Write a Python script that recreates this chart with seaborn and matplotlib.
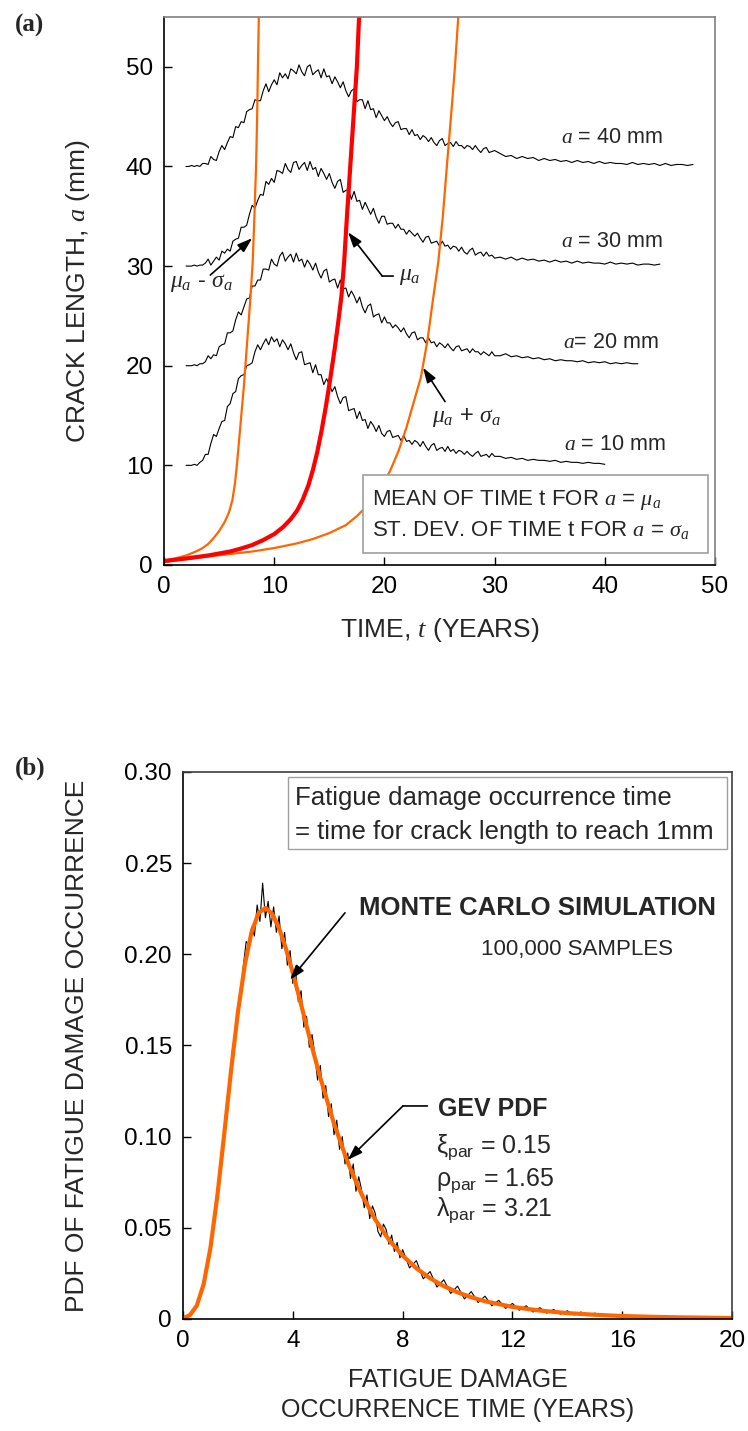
import numpy as np
import matplotlib
matplotlib.use("Agg")
import matplotlib.pyplot as plt
import seaborn as sns
from matplotlib.patches import Rectangle

# ---------------- panel (a): crack growth paths ----------------
# sampled every 0.25 yr up to t = 30, then every 0.5 yr
t40 = np.concatenate([np.arange(2.0, 30.01, 0.25), np.arange(30.5, 48.01, 0.5)])
a40 = [40.0, 40.0, 40.1, 40.0, 40.1, 40.0, 40.3, 40.3,
       40.2, 41.0, 40.7, 40.6, 41.5, 42.1, 41.7, 42.4,
       43.0, 42.9, 44.0, 43.9, 44.5, 44.4, 45.5, 45.7,
       45.8, 46.7, 46.6, 46.6, 47.6, 48.3, 47.5, 48.2,
       48.7, 48.2, 49.4, 48.9, 49.3, 48.8, 49.8, 49.6,
       49.3, 50.2, 49.5, 49.1, 50.0, 50.2, 49.2, 49.5,
       49.7, 48.9, 49.8, 49.0, 49.1, 48.3, 49.0, 48.5,
       47.9, 48.5, 47.6, 47.0, 47.6, 47.8, 46.5, 46.7,
       46.7, 45.8, 46.6, 45.7, 45.8, 44.9, 45.6, 45.1,
       44.6, 45.0, 44.4, 44.0, 44.4, 44.5, 43.7, 43.8,
       43.8, 43.2, 43.7, 43.1, 43.2, 42.7, 43.1, 42.9,
       42.5, 42.9, 42.4, 42.1, 42.6, 42.8, 42.1, 42.3,
       42.4, 42.0, 42.5, 42.1, 42.1, 41.8, 42.1, 42.0,
       41.7, 42.1, 41.7, 41.4, 41.8, 41.9, 41.4, 41.5,
       41.6,
       41.3, 41.0, 41.1, 40.8, 41.0, 40.8, 40.9, 40.6, 40.8, 40.6,
       40.7, 40.5, 40.6, 40.4, 40.6, 40.4, 40.5, 40.3, 40.5, 40.3,
       40.4, 40.3, 40.3, 40.2, 40.4, 40.2, 40.3, 40.2, 40.3, 40.1,
       40.3, 40.1, 40.2, 40.2, 40.1, 40.2]
t30 = np.concatenate([np.arange(2.0, 30.01, 0.25), np.arange(30.5, 45.01, 0.5)])
a30 = [30.0, 30.0, 30.0, 30.1, 30.0, 30.1, 30.1, 30.3,
       30.7, 30.1, 30.5, 30.9, 30.6, 31.5, 31.3, 31.7,
       31.5, 32.5, 32.7, 32.8, 33.9, 33.9, 34.1, 35.2,
       36.1, 35.8, 36.6, 37.2, 37.1, 38.5, 38.2, 38.8,
       38.4, 39.6, 39.5, 39.3, 40.3, 39.7, 39.4, 40.4,
       40.5, 39.7, 40.1, 40.4, 39.6, 40.5, 39.7, 39.9,
       39.0, 39.8, 39.3, 38.7, 39.3, 38.4, 37.8, 38.5,
       38.7, 37.4, 37.6, 37.7, 36.7, 37.5, 36.5, 36.6,
       35.7, 36.4, 35.8, 35.2, 35.8, 34.9, 34.3, 35.0,
       35.0, 34.2, 34.3, 34.3, 33.8, 34.2, 33.7, 33.7,
       33.2, 33.6, 33.3, 33.0, 33.3, 32.8, 32.4, 32.9,
       33.0, 32.3, 32.4, 32.5, 32.0, 32.5, 32.0, 32.1,
       31.7, 32.0, 31.9, 31.5, 31.9, 31.4, 31.2, 31.6,
       31.8, 31.1, 31.3, 31.4, 31.0, 31.4, 31.0, 31.1,
       30.8,
       30.9, 30.7, 30.9, 30.6, 30.8, 30.6, 30.7, 30.5, 30.6, 30.4,
       30.6, 30.4, 30.5, 30.3, 30.5, 30.3, 30.4, 30.3, 30.3, 30.2,
       30.4, 30.2, 30.3, 30.2, 30.3, 30.1, 30.2, 30.2, 30.1, 30.2]
t20 = np.concatenate([np.arange(2.0, 30.01, 0.25), np.arange(30.5, 43.01, 0.5)])
a20 = [20.0, 20.0, 20.0, 20.1, 20.0, 20.2, 20.2, 20.4,
       21.0, 20.7, 21.1, 21.0, 21.9, 22.1, 22.2, 23.3,
       23.3, 23.5, 24.6, 25.4, 25.1, 25.9, 26.7, 26.8,
       28.0, 28.0, 28.6, 28.6, 29.7, 29.7, 29.6, 30.7,
       30.2, 30.0, 31.0, 31.4, 30.5, 30.9, 31.2, 30.4,
       31.3, 30.5, 30.7, 29.9, 30.6, 30.2, 29.6, 30.3,
       29.4, 28.8, 29.5, 29.7, 28.4, 28.6, 28.7, 27.8,
       28.6, 27.7, 27.8, 26.9, 27.5, 27.0, 26.3, 26.9,
       25.9, 25.3, 26.0, 26.2, 24.9, 25.1, 25.2, 24.3,
       24.9, 24.3, 24.3, 23.8, 24.1, 23.8, 23.4, 23.8,
       23.2, 22.8, 23.3, 23.4, 22.6, 22.8, 22.8, 22.3,
       22.8, 22.3, 22.4, 21.9, 22.3, 22.1, 21.8, 22.2,
       21.8, 21.5, 21.9, 22.0, 21.5, 21.6, 21.7, 21.3,
       21.7, 21.4, 21.4, 21.1, 21.4, 21.2, 21.0, 21.4,
       21.0,
       21.0, 21.2, 20.9, 21.0, 20.8, 20.9, 20.7, 20.8, 20.6, 20.7,
       20.5, 20.6, 20.5, 20.5, 20.4, 20.5, 20.3, 20.4, 20.3, 20.4,
       20.2, 20.3, 20.2, 20.3, 20.2, 20.2]
t10 = np.concatenate([np.arange(2.0, 30.01, 0.25), np.arange(30.5, 40.01, 0.5)])
a10 = [10.0, 10.0, 10.0, 10.1, 10.0, 10.3, 10.5, 11.1,
       11.1, 12.2, 13.1, 12.9, 13.7, 14.4, 14.5, 15.9,
       16.2, 17.2, 17.4, 18.7, 19.0, 19.1, 20.0, 20.1,
       20.3, 21.4, 22.1, 21.6, 22.2, 22.7, 22.1, 22.9,
       22.4, 22.7, 21.9, 22.6, 22.2, 21.6, 22.2, 21.3,
       20.6, 21.3, 21.4, 20.1, 20.2, 20.3, 19.3, 20.1,
       19.1, 19.1, 18.1, 18.7, 18.1, 17.4, 17.9, 16.9,
       16.2, 16.8, 16.9, 15.5, 15.6, 15.7, 14.7, 15.4,
       14.5, 14.6, 13.7, 14.4, 14.0, 13.4, 14.0, 13.2,
       12.9, 13.4, 13.5, 12.8, 12.9, 13.0, 12.5, 13.0,
       12.4, 12.5, 12.1, 12.5, 12.3, 11.9, 12.4, 11.9,
       11.5, 12.0, 12.2, 11.5, 11.7, 11.8, 11.4, 11.9,
       11.4, 11.6, 11.2, 11.5, 11.4, 11.1, 11.4, 11.1,
       10.9, 11.2, 11.4, 10.9, 11.0, 11.1, 10.8, 11.2,
       10.9,
       10.9, 10.7, 10.8, 10.6, 10.7, 10.5, 10.6, 10.5, 10.5, 10.4,
       10.5, 10.3, 10.4, 10.3, 10.3, 10.2, 10.3, 10.2, 10.2, 10.1]

# mean and mean +/- st.dev. growth curves
lo_t = [0, 1, 2, 3, 3.5, 4, 4.5, 5, 5.5, 5.9, 6.2, 6.45, 6.65, 6.85, 7.05,
        7.25, 7.45, 7.65, 7.85, 8.05, 8.2, 8.35, 8.45, 8.52, 8.6]
lo_a = [0.4, 0.65, 0.95, 1.4, 1.7, 2.1, 2.7, 3.4, 4.3, 5.3, 6.5, 8.3, 10.5,
        13.0, 15.5, 18.0, 21.0, 24.0, 27.0, 30.5, 35.0, 40.0, 45.0, 50.0, 55.0]
mu_t = [0, 2, 4, 6, 7, 8, 9, 10, 10.8, 11.5, 12.1, 12.6, 13.1, 13.5, 13.9,
        14.3, 14.7, 15.1, 15.5, 15.8, 16.1, 16.35, 16.6, 16.9, 17.2, 17.5, 17.7]
mu_a = [0.4, 0.65, 0.95, 1.35, 1.65, 2.0, 2.5, 3.1, 3.8, 4.6, 5.5, 6.6, 8.0,
        9.5, 11.3, 13.5, 16.0, 18.8, 21.8, 24.3, 27.0, 30.5, 35.0, 40.0, 45.0,
        50.0, 55.0]
hi_t = [0, 2, 4, 6, 8, 10, 12, 13.5, 15, 16.5, 17.5, 18.5, 19.5, 20.5, 21.3,
        22.0, 22.7, 23.3, 23.9, 24.4, 24.9, 25.3, 25.7, 26.1, 26.4, 26.7]
hi_a = [0.3, 0.6, 0.85, 1.1, 1.35, 1.7, 2.15, 2.6, 3.2, 4.0, 4.9, 6.0, 7.5,
        9.4, 11.5, 13.8, 16.5, 18.8, 22.5, 26.6, 30.5, 35.0, 40.5, 45.8, 50.0,
        55.0]

# ---------------- panel (b): PDF of fatigue damage occurrence ----------------
mc_t = np.concatenate([np.arange(0.0, 8.01, 0.1), np.arange(8.25, 20.01, 0.25)])
mc_pdf = [0.0000, 0.0010, 0.0020, 0.0025, 0.0055, 0.0070, 0.0120, 0.0150, 0.0240, 0.0290,
          0.0410, 0.0480, 0.0640, 0.0720, 0.0910, 0.0980, 0.1190, 0.1270, 0.1480, 0.1530,
          0.1720, 0.1760, 0.1940, 0.2070, 0.2050, 0.2150, 0.2100, 0.2270, 0.2180, 0.2390,
          0.2200, 0.2290, 0.2150, 0.2260, 0.2120, 0.2210, 0.2030, 0.2120, 0.1940, 0.2020,
          0.1840, 0.1910, 0.1740, 0.1800, 0.1600, 0.1660, 0.1490, 0.1560, 0.1450, 0.1310,
          0.1390, 0.1210, 0.1280, 0.1110, 0.1180, 0.1010, 0.1090, 0.0930, 0.1000, 0.0850,
          0.0910, 0.0770, 0.0850, 0.0700, 0.0780, 0.0710, 0.0610, 0.0680, 0.0550, 0.0620,
          0.0580, 0.0480, 0.0450, 0.0520, 0.0490, 0.0410, 0.0460, 0.0370, 0.0420, 0.0335,
          0.0380,
          0.0280, 0.0320, 0.0220, 0.0260, 0.0175, 0.0215, 0.0140, 0.0180, 0.0110, 0.0150,
          0.0090, 0.0125, 0.0072, 0.0102, 0.0058, 0.0085, 0.0048, 0.0072, 0.0038, 0.0062,
          0.0032, 0.0052, 0.0026, 0.0045, 0.0022, 0.0038, 0.0018, 0.0032, 0.0018, 0.0024,
          0.0015, 0.0021, 0.0013, 0.0018, 0.0011, 0.0016, 0.0009, 0.0014, 0.0008, 0.0012,
          0.0006, 0.0010, 0.0005, 0.0009, 0.0004, 0.0008, 0.0004, 0.0006]
gev_t = [0, 0.25, 0.5, 0.75, 1.0, 1.25, 1.5, 1.75, 2.0, 2.25, 2.5, 2.75, 3.0,
         3.25, 3.5, 3.75, 4.0, 4.25, 4.5, 4.75, 5.0, 5.5, 6.0, 6.5, 7.0, 7.5,
         8.0, 8.5, 9, 9.5, 10, 10.5, 11, 12, 13, 14, 15, 16, 17, 18, 19, 20]
gev_pdf = [0.0004, 0.0021, 0.0073, 0.0190, 0.0391, 0.0675, 0.1013, 0.1363,
           0.1683, 0.1942, 0.2124, 0.2225, 0.2254, 0.2221, 0.2142, 0.2030,
           0.1897, 0.1754, 0.1607, 0.1462, 0.1323, 0.1071, 0.0858, 0.0685,
           0.0545, 0.0434, 0.0347, 0.0278, 0.0223, 0.0180, 0.0146, 0.0119,
           0.0097, 0.0066, 0.0046, 0.0032, 0.0023, 0.0016, 0.0012, 0.0009,
           0.0007, 0.0005]

ORANGE = "#FF6600"
RED = "#FF0000"

sns.set_style("white")
plt.rcParams["font.family"] = ["Liberation Sans", "DejaVu Sans"]
plt.rcParams["mathtext.fontset"] = "custom"
plt.rcParams["mathtext.rm"] = "Liberation Sans"
plt.rcParams["mathtext.it"] = "Liberation Serif:italic"
plt.rcParams["mathtext.bf"] = "Liberation Sans:bold"

fig = plt.figure(figsize=(7.48, 14.31), dpi=100)
ax1 = fig.add_axes([0.2193, 0.6052, 0.7366, 0.3829])
ax2 = fig.add_axes([0.2447, 0.0783, 0.7340, 0.3823])

# ---- panel (a)
for tt, aa in [(t40, a40), (t30, a30), (t20, a20), (t10, a10)]:
    sns.lineplot(x=tt, y=aa, ax=ax1, color="black", lw=0.8,
                 estimator=None, sort=False)
sns.lineplot(x=lo_t, y=lo_a, ax=ax1, color=ORANGE, lw=1.6, estimator=None, sort=False)
sns.lineplot(x=hi_t, y=hi_a, ax=ax1, color=ORANGE, lw=1.6, estimator=None, sort=False)
sns.lineplot(x=mu_t, y=mu_a, ax=ax1, color=RED, lw=3.0, estimator=None, sort=False)

ax1.set_xlim(0, 50)
ax1.set_ylim(0, 55)
ax1.set_xticks(range(0, 51, 10))
ax1.set_yticks(range(0, 51, 10))
ax1.set_xlabel("TIME, $t$ (YEARS)", fontsize=19)
ax1.set_ylabel("CRACK LENGTH, $a$ (mm)", fontsize=19)
ax1.yaxis.set_label_coords(-0.156, 0.5)
ax1.xaxis.set_label_coords(0.5, -0.119)
ax1.xaxis.label.set_va("center")
ax1.yaxis.label.set_va("center")

lab_kw = dict(fontsize=15.5, ha="left", va="center")
ax1.text(36.0, 42.9, "$a$ = 40 mm", **lab_kw)
ax1.text(36.0, 32.5, "$a$ = 30 mm", **lab_kw)
ax1.text(36.2, 22.3, "$a$= 20 mm", **lab_kw)
ax1.text(36.3, 12.1, "$a$ = 10 mm", **lab_kw)

arw = dict(arrowstyle="-|>,head_length=0.9,head_width=0.3", color="black",
           lw=1.2, shrinkA=0, shrinkB=0)
ax1.text(3.4, 28.3, r"$\mu_a$ - $\sigma_a$", fontsize=17, ha="center", va="center")
ax1.annotate("", xy=(8.0, 32.8), xytext=(4.2, 29.1), arrowprops=arw)
ax1.text(21.3, 29.0, r"$\mu_a$", fontsize=17, ha="left", va="center")
ax1.annotate("", xy=(19.8, 29.0), xytext=(20.8, 29.0),
             arrowprops=dict(arrowstyle="-", color="black", lw=1.2, shrinkA=0, shrinkB=0))
ax1.annotate("", xy=(16.7, 33.4), xytext=(19.8, 29.0), arrowprops=arw)
ax1.text(27.4, 14.8, r"$\mu_a$ + $\sigma_a$", fontsize=17, ha="center", va="center")
ax1.annotate("", xy=(23.5, 19.8), xytext=(25.5, 16.4), arrowprops=arw)

ax1.add_patch(Rectangle((18.1, 1.2), 31.3, 7.85, facecolor="white",
                        edgecolor="#A0A0A0", lw=1.2, zorder=5))
ax1.text(18.9, 6.5, r"MEAN OF TIME t FOR $a$ = $\mu_a$", fontsize=16,
         ha="left", va="center", zorder=6)
ax1.text(18.9, 3.5, r"ST. DEV. OF TIME t FOR $a$ = $\sigma_a$", fontsize=16,
         ha="left", va="center", zorder=6)

# ---- panel (b)
sns.lineplot(x=mc_t, y=mc_pdf, ax=ax2, color="black", lw=0.8, estimator=None, sort=False)
sns.lineplot(x=gev_t, y=gev_pdf, ax=ax2, color=ORANGE, lw=3.0, estimator=None, sort=False)

ax2.set_xlim(0, 20)
ax2.set_ylim(0, 0.30)
ax2.set_xticks(range(0, 21, 4))
ax2.set_yticks([0, 0.05, 0.10, 0.15, 0.20, 0.25, 0.30])
ax2.set_yticklabels(["0", "0.05", "0.10", "0.15", "0.20", "0.25", "0.30"])
ax2.set_xlabel("FATIGUE DAMAGE\nOCCURRENCE TIME (YEARS)", fontsize=18, linespacing=1.35)
ax2.set_ylabel("PDF OF FATIGUE DAMAGE OCCURRENCE", fontsize=19)
ax2.yaxis.set_label_coords(-0.193, 0.5)
ax2.xaxis.set_label_coords(0.5, -0.139)
ax2.xaxis.label.set_va("center")
ax2.yaxis.label.set_va("center")

ax2.add_patch(Rectangle((3.83, 0.2578), 15.99, 0.0395, facecolor="white",
                        edgecolor="#A0A0A0", lw=1.0, zorder=5))
ax2.text(4.08, 0.2858, "Fatigue damage occurrence time", fontsize=18.5,
         ha="left", va="center", zorder=6)
ax2.text(4.08, 0.2671, "= time for crack length to reach 1mm", fontsize=18.5,
         ha="left", va="center", zorder=6)
ax2.text(12.93, 0.2255, "MONTE CARLO SIMULATION", fontsize=18.5, fontweight="bold",
         ha="center", va="center")
ax2.text(14.35, 0.2024, "100,000 SAMPLES", fontsize=16, ha="center", va="center")
ax2.annotate("", xy=(3.9, 0.186), xytext=(5.9, 0.2227), arrowprops=arw)

ax2.text(9.29, 0.1152, "GEV PDF", fontsize=18, fontweight="bold", ha="left", va="center")
ax2.text(9.2, 0.0943, r"$\mathrm{\xi_{par}}$ = 0.15", fontsize=18, ha="left", va="center")
ax2.text(9.2, 0.0757, r"$\mathrm{\rho_{par}}$ = 1.65", fontsize=18, ha="left", va="center")
ax2.text(9.2, 0.0598, r"$\mathrm{\lambda_{par}}$ = 3.21", fontsize=18, ha="left", va="center")
ax2.annotate("", xy=(8.01, 0.1168), xytext=(8.9, 0.1168),
             arrowprops=dict(arrowstyle="-", color="black", lw=1.2, shrinkA=0, shrinkB=0))
ax2.annotate("", xy=(6.0, 0.0872), xytext=(8.01, 0.1168), arrowprops=arw)

for ax in (ax1, ax2):
    ax.tick_params(axis="both", direction="in", length=6, width=1.0,
                   labelsize=17.5, colors="black", pad=8,
                   bottom=True, left=True, top=False, right=False)
    for s in ax.spines.values():
        s.set_linewidth(1.2)
        s.set_color("black")
ax1.spines["top"].set_color("#808080")
ax1.spines["right"].set_color("#808080")
ax2.spines["top"].set_color("#404040")
ax2.spines["right"].set_color("#404040")

fig.text(30 / 748, 1 - 25 / 1431, "(a)", fontsize=18, fontweight="bold",
         family="Liberation Serif", ha="center", va="center")
fig.text(30 / 748, 1 - 768 / 1431, "(b)", fontsize=18, fontweight="bold",
         family="Liberation Serif", ha="center", va="center")

fig.savefig("out.png", dpi=100)
